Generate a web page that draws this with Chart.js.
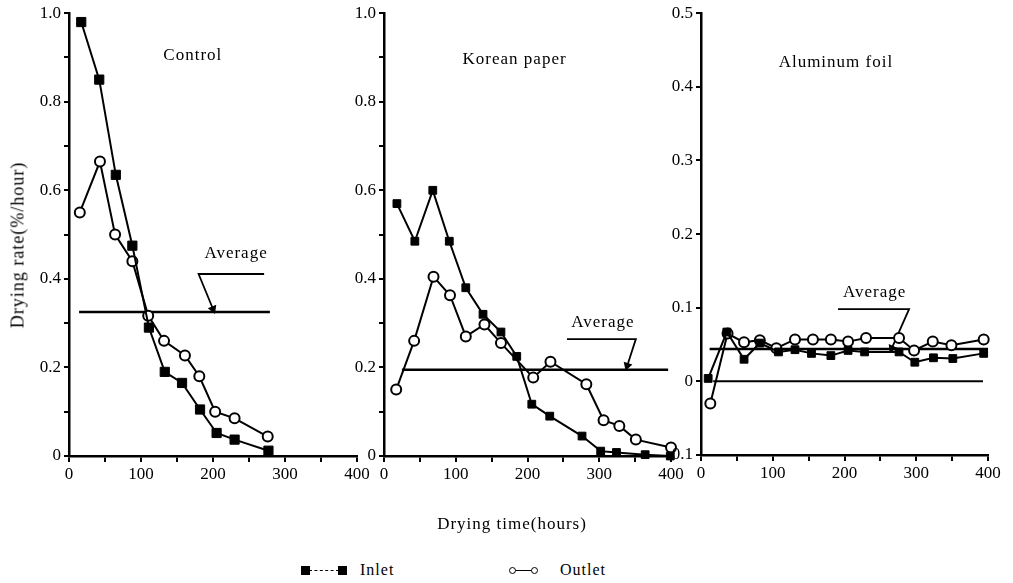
<!DOCTYPE html>
<html>
<head>
<meta charset="utf-8">
<script src="https://cdn.jsdelivr.net/npm/chart.js@4.4.1/dist/chart.umd.min.js"></script>
<style>
  body { margin: 0; background: #fff; width: 1013px; height: 583px; overflow: hidden; position: relative; font-family: "Liberation Serif", serif; color: #000; }
  canvas { position: absolute; top: 0; }
  .txt { position: absolute; white-space: nowrap; letter-spacing: 1px; }
  .ytitle { left: 18px; top: 245px; font-size: 18px; transform: translate(-50%, -50%) rotate(-90deg); }
  .xtitle { left: 512px; top: 524px; font-size: 17px; transform: translate(-50%, -50%); }
  .sq { position: absolute; width: 9px; height: 9px; background: #000; }
  .ci { position: absolute; width: 5px; height: 5px; border: 1px solid #000; border-radius: 50%; background: #fff; }
  .ln { position: absolute; height: 0; border-top: 1px solid #000; }
</style>
</head>
<body>
<canvas id="c1" width="380" height="500" style="left:0px"></canvas>
<canvas id="c2" width="370" height="500" style="left:330px"></canvas>
<canvas id="c3" width="363" height="500" style="left:650px"></canvas>

<div class="txt ytitle">Drying rate(%/hour)</div>
<div class="txt xtitle">Drying time(hours)</div>

<div class="ln" style="left:309px;top:570px;width:30px;border-top-style:dashed"></div>
<div class="sq" style="left:301px;top:566px"></div>
<div class="sq" style="left:338px;top:566px"></div>
<div class="txt" style="left:360px;top:561px;font-size:16px">Inlet</div>
<div class="ln" style="left:514px;top:570px;width:20px"></div>
<div class="ci" style="left:509px;top:567px"></div>
<div class="ci" style="left:531px;top:567px"></div>
<div class="txt" style="left:560px;top:561px;font-size:16px">Outlet</div>

<script>
// Control
const controlInletX  = [17, 42, 65, 88, 111, 133, 157, 182, 205, 230, 277]
const controlInletY  = [0.98, 0.85, 0.635, 0.475, 0.29, 0.19, 0.165, 0.105, 0.052, 0.037, 0.012]
const controlOutletX = [15, 43, 64, 88, 110, 132, 161, 181, 203, 230, 276]
const controlOutletY = [0.55, 0.665, 0.50, 0.44, 0.317, 0.26, 0.227, 0.18, 0.10, 0.085, 0.044]
const controlAverage = 0.325
const controlAverageSpan = [14, 279]
const controlCalloutX = [271, 180, 200]
const controlCalloutY = [0.411, 0.411, 0.332]

// Korean paper
const koreanInletX  = [18, 43, 68, 91, 114, 138, 163, 185, 206, 231, 276, 302, 324, 364, 399]
const koreanInletY  = [0.57, 0.485, 0.60, 0.485, 0.38, 0.32, 0.28, 0.225, 0.117, 0.09, 0.045, 0.011, 0.008, 0.003, 0.0]
const koreanOutletX = [17, 42, 69, 92, 114, 140, 163, 208, 232, 282, 306, 328, 351, 400]
const koreanOutletY = [0.15, 0.26, 0.405, 0.363, 0.27, 0.297, 0.255, 0.177, 0.213, 0.162, 0.081, 0.068, 0.037, 0.019]
const koreanAverage = 0.195
const koreanAverageSpan = [25, 396]
const koreanCalloutX = [255, 351, 339]
const koreanCalloutY = [0.264, 0.264, 0.204]

// Aluminum foil
const foilInletX  = [10, 36, 60, 82, 108, 131, 154, 181, 205, 228, 276, 298, 324, 351, 394]
const foilInletY  = [0.004, 0.067, 0.03, 0.052, 0.04, 0.043, 0.038, 0.035, 0.042, 0.04, 0.04, 0.026, 0.032, 0.031, 0.038]
const foilOutletX = [13, 37, 60, 82, 105, 131, 156, 181, 205, 230, 276, 297, 323, 349, 394]
const foilOutletY = [-0.03, 0.065, 0.053, 0.056, 0.045, 0.057, 0.057, 0.057, 0.054, 0.059, 0.059, 0.042, 0.054, 0.049, 0.057]
const foilAverage = 0.044
const foilAverageSpan = [12, 400]
const foilZeroSpan = [17, 393]
const foilCalloutX = [191, 290, 266]
const foilCalloutY = [0.098, 0.098, 0.045]

const xTicks = [0, 100, 200, 300, 400]

const FONT = { family: '"Liberation Serif", serif', size: 17 }
const pts = (xs, ys) => xs.map((x, i) => ({ x, y: ys[i] }))
const fmt = v => Math.abs(v) < 1e-9 ? '0' : v.toFixed(1)

const notesPlugin = {
  id: 'notes',
  afterDatasetsDraw(chart, args, opts) {
    const ctx = chart.ctx, sx = chart.scales.x, sy = chart.scales.y
    ctx.save()
    ctx.fillStyle = '#000'
    ctx.font = '17px "Liberation Serif", serif'
    ctx.letterSpacing = '1px'
    ctx.textAlign = 'center'
    ctx.textBaseline = 'middle'
    for (const n of opts.items || []) ctx.fillText(n[0], sx.getPixelForValue(n[1]), sy.getPixelForValue(n[2]))
    ctx.restore()
  }
}

function lineSet(data, extra) {
  return Object.assign({ data, showLine: true, clip: false, borderColor: '#000', borderWidth: 2, pointRadius: 0, tension: 0 }, extra)
}

function panel(id, cfg) {
  const inlet = lineSet(pts(cfg.inX, cfg.inY), {
    pointStyle: 'rect', pointRadius: cfg.sq, pointBackgroundColor: '#000', pointBorderColor: '#000', pointBorderWidth: 1
  })
  const outlet = lineSet(pts(cfg.outX, cfg.outY), {
    pointStyle: 'circle', pointRadius: 5, pointBackgroundColor: '#fff', pointBorderColor: '#000', pointBorderWidth: 2
  })
  const avg = lineSet(pts(cfg.avgSpan, [cfg.avg, cfg.avg]), { borderWidth: 2.5 })
  const callout = lineSet(pts(cfg.callX, cfg.callY), {
    pointStyle: 'triangle', pointRadius: [0, 0, 3.5], pointRotation: [0, 0, cfg.arrowRot],
    pointBackgroundColor: '#000', pointBorderColor: '#000', borderWidth: 1.8
  })
  const datasets = [inlet, outlet, avg, callout].concat(cfg.more || [])

  const options = {
    responsive: false, animation: false, devicePixelRatio: 1, events: [],
    layout: { padding: { left: 0, right: 20, top: 5, bottom: 10 } },
    plugins: { legend: { display: false }, tooltip: { enabled: false }, notes: { items: cfg.notes } },
    scales: {
      x: {
        type: 'linear', min: 0, max: 400,
        border: { color: '#000', width: 2.5 },
        grid: { drawOnChartArea: false, drawTicks: true, color: '#000', tickColor: '#000', tickWidth: 2, lineWidth: 2, tickLength: 6 },
        ticks: {
          stepSize: 50, autoSkip: false, maxRotation: 0, color: '#000', font: FONT, padding: 2,
          callback: v => xTicks.includes(v) ? String(v) : ''
        }
      },
      y: {
        type: 'linear', min: cfg.yMin, max: cfg.yMax,
        border: { color: '#000', width: 2.5 },
        grid: { drawOnChartArea: false, drawTicks: true, color: '#000', tickColor: '#000', tickWidth: 2, lineWidth: 2, tickLength: 5 },
        ticks: {
          stepSize: 0.1, autoSkip: false, color: '#000', font: FONT, padding: 3,
          callback: (v, i) => (i % cfg.labelEvery === 0) ? fmt(v) : ''
        }
      }
    }
  }

  const canvas = document.getElementById(id)
  const chart = new Chart(canvas, { type: 'scatter', data: { datasets }, options, plugins: [notesPlugin] })

  // nudge padding so the plot area lands on the wanted pixels
  const left = parseFloat(canvas.style.left)
  const pad = options.layout.padding
  for (let k = 0; k < 3; k++) {
    const a = chart.chartArea
    pad.left += cfg.box[0] - left - a.left
    pad.right += a.right - (cfg.box[1] - left)
    pad.top += cfg.box[2] - a.top
    pad.bottom += a.bottom - cfg.box[3]
    chart.update('none')
  }
  return chart
}

panel('c1', {
  inX: controlInletX, inY: controlInletY, outX: controlOutletX, outY: controlOutletY,
  avg: controlAverage, avgSpan: controlAverageSpan,
  callX: controlCalloutX, callY: controlCalloutY, arrowRot: 158,
  sq: 6.5, yMin: 0, yMax: 1, labelEvery: 2,
  notes: [['Control', 172, 0.905], ['Average', 232, 0.457]],
  box: [69, 357, 15, 456]
})

panel('c2', {
  inX: koreanInletX, inY: koreanInletY, outX: koreanOutletX, outY: koreanOutletY,
  avg: koreanAverage, avgSpan: koreanAverageSpan,
  callX: koreanCalloutX, callY: koreanCalloutY, arrowRot: 198,
  sq: 5.5, yMin: 0, yMax: 1, labelEvery: 2,
  notes: [['Korean paper', 182, 0.895], ['Average', 305, 0.302]],
  box: [384, 671, 15, 456]
})

panel('c3', {
  inX: foilInletX, inY: foilInletY, outX: foilOutletX, outY: foilOutletY,
  avg: foilAverage, avgSpan: foilAverageSpan,
  callX: foilCalloutX, callY: foilCalloutY, arrowRot: 204,
  sq: 5.5, yMin: -0.1, yMax: 0.5, labelEvery: 1,
  more: [lineSet(pts(foilZeroSpan, [0, 0]), { borderWidth: 2 })],
  notes: [['Aluminum foil', 188, 0.433], ['Average', 242, 0.12]],
  box: [701, 988, 14, 455]
})
</script>
</body>
</html>
